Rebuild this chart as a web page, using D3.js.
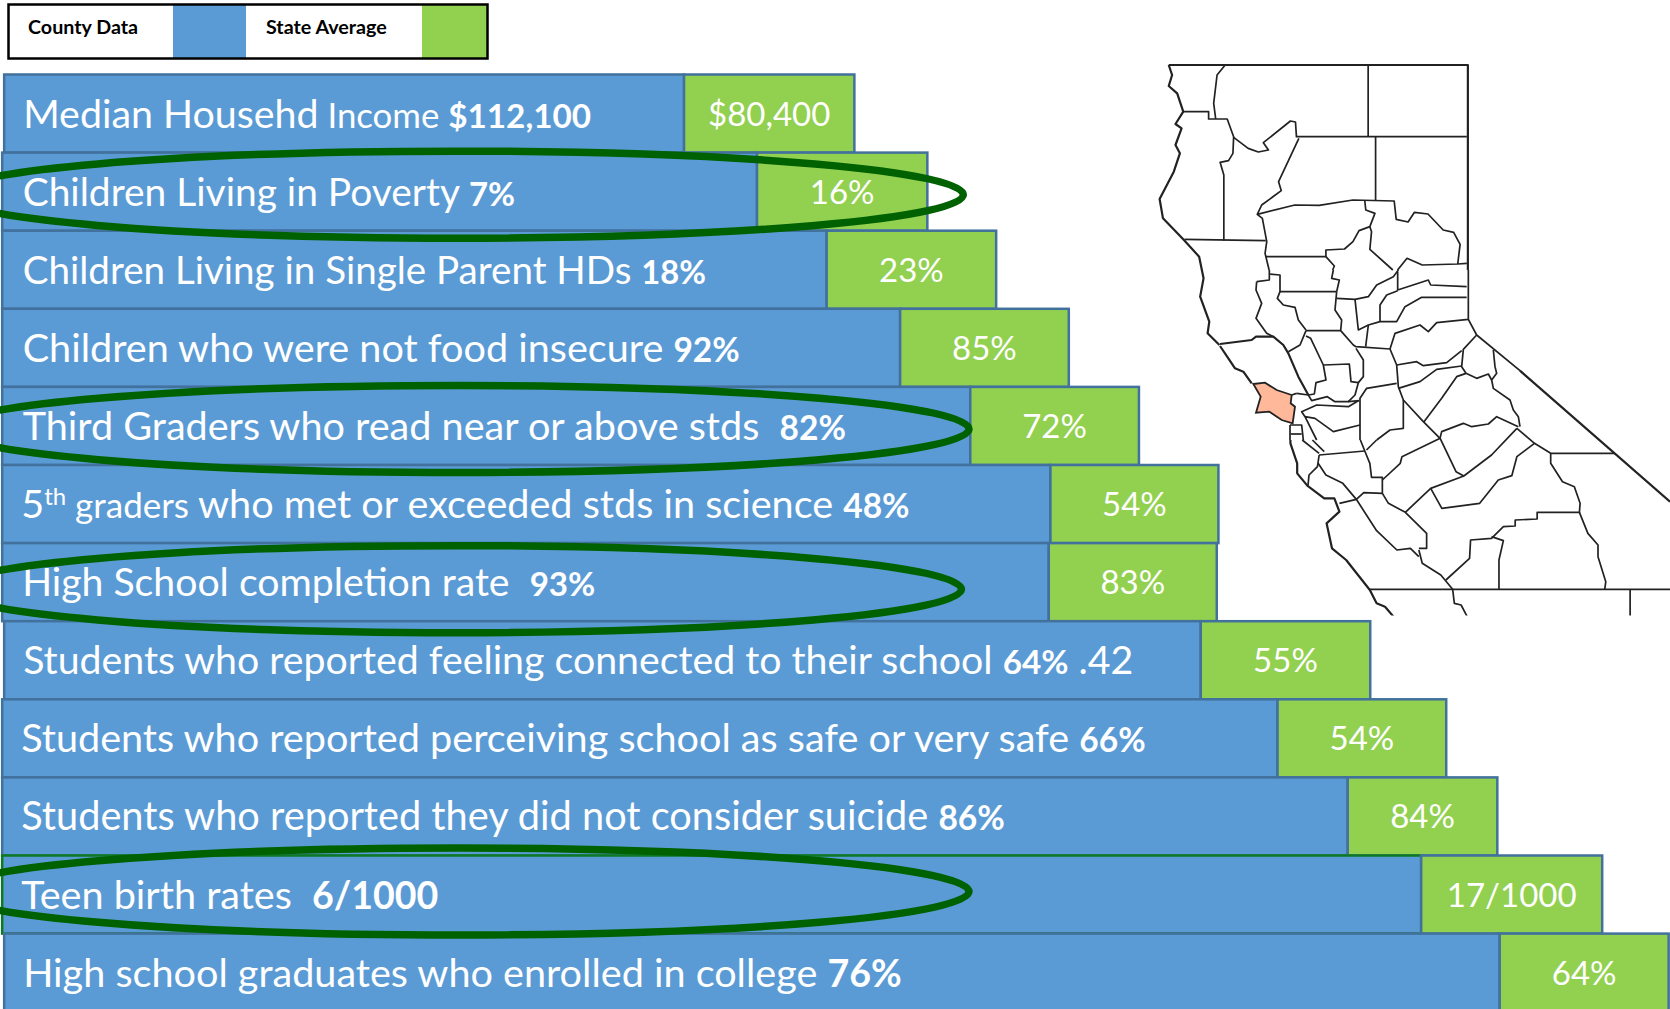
<!DOCTYPE html>
<html>
<head>
<meta charset="utf-8">
<style>
  html, body { margin: 0; padding: 0; background: #fff; }
  svg { display: block; }
  text { font-family: Lato, "Open Sans", sans-serif; white-space: pre; }
</style>
<script src="https://cdn.jsdelivr.net/npm/d3@7"></script>
</head>
<body>
<svg id="chart" width="1670" height="1009"></svg>
<script>
// rows: r regular, s small, b bold, B big bold, u superscript
var rowLabels = [
  [["Median Househd", "r"], [" Income ", "s"], ["$112,100", "b"]],
  [["Children Living in Poverty ", "r"], ["7%", "b"]],
  [["Children Living in Single Parent HDs ", "r"], ["18%", "b"]],
  [["Children who were not food insecure ", "r"], ["92%", "b"]],
  [["Third Graders who read near or above stds  ", "r"], ["82%", "b"]],
  [["5", "r"], ["th", "u"], [" graders ", "s"], ["who met or exceeded stds in science ", "r"], ["48%", "b"]],
  [["High School completion rate  ", "r"], ["93%", "b"]],
  [["Students who reported feeling connected to their school ", "r"], ["64%", "b"], [" .42", "r"]],
  [["Students who reported perceiving school as safe or very safe ", "r"], ["66%", "b"]],
  [["Students who reported they did not consider suicide ", "r"], ["86%", "b"]],
  [["Teen birth rates  ", "r"], ["6/1000", "B"]],
  [["High school graduates who enrolled in college ", "r"], ["76%", "B"]]
];
var stateLabels = ["$80,400", "16%", "23%", "85%", "72%", "54%", "83%", "55%", "54%", "84%", "17/1000", "64%"];

// bar lengths, as a share of the page width
var rowStart = [0.25, 0.13, 0.13, 0.13, 0.13, 0.13, 0.13, 0.25, 0.13, 0.13, 0.13, 0.25];
var countyEnd = [40.96, 45.33, 49.5, 53.9, 58.1, 62.9, 62.8, 71.9, 76.5, 80.7, 85.1, 89.8];
var stateLen = [10.2, 10.2, 10.15, 10.1, 10.1, 10.06, 10.06, 10.15, 10.1, 8.96, 10.84, 10.12];

// the source text boxes were not all set the same
var labelScale = [0.994, 0.983, 0.974, 1, 1, 1, 0.99, 0.992, 1, 1.003, 1, 1];
var labelNudge = [0, 1.5, 1.5, 1.5, 1.5, 0, 1, 0, 0, 0, 0, 0];

// circled rows, how far each ring sits off its row centre, and its half width
var ringRows = [1, 4, 6, 10];
var ringShift = [3, 3, 7, -3];
var ringRx = [507, 510, 506, 510];

var legendItems = ["County Data", "State Average"];

var mapNorth = [
  [[85,45],[970,45],[970,660]],
  [[85,45],[95,75],[85,108],[110,130],[128,185],[105,222],[123,235],[105,285],[118,310],[100,365],[58,447],[68,505],[130,570],[175,620],[188,685],[178,740],[205,815],[200,850],[235,885]],
  [[252,45],[228,75],[218,160],[224,207]],
  [[128,185],[203,185],[203,207],[258,207],[277,260],[275,310],[262,332],[237,337],[248,375],[248,572]],
  [[277,262],[320,295],[350,306],[380,300],[365,278],[445,213],[460,216],[463,262]],
  [[463,260],[967,260]],
  [[675,45],[675,258]],
  [[697,260],[697,452]],
  [[470,265],[410,395],[418,422],[360,465],[347,493],[458,465],[530,466],[630,450],[752,453],[758,508],[793,516],[812,487],[852,492],[897,540],[928,547],[947,583],[940,642]],
  [[132,568],[372,572]],
  [[347,493],[362,505],[375,575],[370,610],[382,660]],
  [[372,620],[550,620]],
  [[665,453],[668,480],[695,490],[680,530],[648,542],[630,575],[605,597],[550,600],[550,620],[575,648],[570,660]],
  [[680,530],[685,545],[680,598],[748,660]],
  [[762,660],[790,625],[835,645],[940,642],[967,640]]
];
var mapCentre = [
  [[0,228],[25,265],[45,295],[70,305],[95,340]],
  [[0,222],[95,210],[108,200],[160,200],[190,225],[205,250],[235,320],[265,375]],
  [[110,35],[108,60],[125,100],[108,145],[140,190],[160,200]],
  [[110,35],[148,30],[148,0]],
  [[148,12],[180,15],[180,65],[350,65]],
  [[350,65],[358,30],[335,25],[340,0]],
  [[180,65],[172,85],[190,105],[225,112],[235,150],[258,180]],
  [[258,182],[362,182]],
  [[350,65],[345,120],[365,150],[362,182],[400,225],[408,230],[510,237],[530,285],[535,350],[550,390],[610,455],[660,505]],
  [[258,182],[240,225],[205,245]],
  [[258,198],[272,205],[310,285],[318,330],[288,338],[283,372],[265,375]],
  [[310,285],[388,282],[393,335],[415,338],[405,375],[385,395],[345,395],[322,380],[275,392],[265,375]],
  [[415,338],[430,320],[430,270],[408,235]],
  [[510,237],[525,190],[600,165],[625,185],[650,158],[745,148],[745,0]],
  [[745,148],[770,195],[900,302]],
  [[770,195],[730,238],[725,290],[738,310],[770,325],[805,312],[815,330]],
  [[530,285],[590,275],[610,287],[680,278],[725,242]],
  [[725,288],[650,298],[600,335],[535,355]],
  [[738,310],[710,320],[665,385],[612,455]],
  [[820,240],[825,290],[830,310],[815,330],[820,355],[870,390],[880,420],[895,440],[900,470]],
  [[530,340],[440,355],[420,385],[420,510]],
  [[385,395],[418,392]],
  [[550,390],[550,475],[510,480],[470,510]],
  [[420,465],[340,485],[285,445],[255,440],[290,510]],
  [[255,440],[245,425],[290,405],[385,410],[415,392]],
  [[210,465],[245,465],[250,510]],
  [[210,465],[210,510]],
  [[212,492],[245,492]],
  [[230,370],[265,375]],
  [[230,370],[215,375]],
  [[405,88],[350,85]],
  [[405,88],[415,180],[445,165],[480,155],[530,155],[555,110],[605,82],[740,82]],
  [[405,88],[445,80],[470,45],[520,20],[535,0]],
  [[533,5],[533,60],[625,30],[632,45],[740,50]],
  [[480,155],[480,105],[500,75],[533,62]],
  [[445,165],[437,230]],
  [[660,505],[665,485],[730,460],[755,470],[805,462],[830,440],[895,470]]
];
var mapSouth = [
  [[1124,92],[1568,485]],
  [[445,300],[445,310],[465,370],[465,400],[495,437],[545,475],[575,475],[590,515],[552,550],[568,625],[610,660],[680,750],[700,790],[725,800],[750,830]],
  [[480,300],[530,340]],
  [[510,300],[545,335]],
  [[530,345],[525,380],[500,405],[497,437]],
  [[530,345],[665,333]],
  [[652,300],[665,333],[680,370],[685,412],[717,412],[717,460],[662,458],[640,478],[590,490]],
  [[527,370],[550,405],[600,430],[640,478],[700,572],[760,630],[800,625],[825,650]],
  [[825,625],[848,625],[848,580],[785,517],[735,490],[717,460]],
  [[717,420],[770,370],[775,350],[888,295],[935,395],[958,408],[1040,345],[1115,265]],
  [[700,300],[670,330]],
  [[958,408],[860,445],[785,517]],
  [[860,445],[893,505],[1005,490],[1060,420],[1100,407],[1115,350],[1167,310],[1115,265]],
  [[1167,310],[1215,340],[1405,340]],
  [[1215,340],[1215,370],[1250,425],[1285,440],[1302,490],[1300,517],[1175,517],[1175,537],[1110,540],[1110,558],[1075,560],[1040,595],[978,600],[975,655],[905,720]],
  [[1300,517],[1325,580],[1355,615],[1355,650],[1378,725],[1375,748]],
  [[1040,590],[1075,602],[1062,660],[1062,748]],
  [[680,748],[1568,748]],
  [[825,630],[835,670],[890,705],[925,748],[930,790],[950,795],[968,830]],
  [[1450,748],[1450,830]]
];
var mapHome = [[100,342],[135,338],[170,360],[215,375],[212,400],[225,410],[218,460],[185,450],[148,425],[108,428],[122,380]];

var svg = d3.select("#chart");

var x = d3.scaleLinear().domain([0, 100]).range([0, 1670]);
var y = d3.scaleBand().domain(d3.range(rowLabels.length)).range([74.5, 1011.7]);

var rows = rowLabels.map(function (d, i) {
  return { i: i, parts: d, start: rowStart[i], county: countyEnd[i], len: stateLen[i], state: stateLabels[i] };
});

// map first, the bars sit on top of it
var mapLayer = svg.append("g").attr("clip-path", "url(#mapClip)");
svg.append("clipPath").attr("id", "mapClip").append("rect")
  .attr("x", 1140).attr("y", 60).attr("width", 530).attr("height", 555.6);

function drawLines(lines, sx, sy, width) {
  var line = d3.line().x(function (d) { return sx(d[0]); }).y(function (d) { return sy(d[1]); });
  mapLayer.selectAll(null)
    .data(lines)
    .enter().append("path")
    .attr("d", line)
    .attr("fill", "none")
    .attr("stroke", "#222")
    .attr("stroke-width", function (d, i) { return i < 2 ? width + 0.5 : width; })
    .attr("stroke-linejoin", "round");
}

var northX = d3.scaleLinear().domain([0, 1568]).range([1140, 1670]);
var northY = d3.scaleLinear().domain([0, 900]).range([50, 350]);
var centreX = d3.scaleLinear().domain([0, 900]).range([1220, 1520]);
var centreY = d3.scaleLinear().domain([0, 510]).range([270, 440]);
var southY = d3.scaleLinear().domain([0, 870]).range([340, 630]);

mapLayer.append("path")
  .attr("d", d3.line().x(function (d) { return centreX(d[0]); }).y(function (d) { return centreY(d[1]); }).curve(d3.curveLinearClosed)(mapHome))
  .attr("fill", "#ffb899")
  .attr("stroke", "#222")
  .attr("stroke-width", 1.8);
drawLines(mapNorth, northX, northY, 1.7);
drawLines(mapCentre, centreX, centreY, 1.7);
drawLines(mapSouth, northX, southY, 1.7);

// bars
var rowGs = svg.selectAll(".row")
  .data(rows)
  .enter().append("g")
  .attr("class", "row");

rowGs.append("rect")
  .attr("x", function (d) { return x(d.start); })
  .attr("y", function (d) { return y(d.i); })
  .attr("width", function (d) { return x(d.county) - x(d.start); })
  .attr("height", y.bandwidth())
  .attr("fill", "#5b9bd5")
  .attr("stroke", function (d) { return d.i === 10 ? "#0b7a23" : "#41719c"; })
  .attr("stroke-width", 2.5);

rowGs.append("rect")
  .attr("x", function (d) { return x(d.county); })
  .attr("y", function (d) { return y(d.i); })
  .attr("width", function (d) { return x(d.len); })
  .attr("height", y.bandwidth())
  .attr("fill", "#92d050")
  .attr("stroke", "#41719c")
  .attr("stroke-width", 2.5);

var sizes = { r: 39.6, s: 35, b: 33.5, B: 37.5, u: 24 };

var labels = rowGs.append("text")
  .attr("x", function (d) { return x(d.start) + 19 + labelNudge[d.i]; })
  .attr("y", function (d) { return y(d.i) + y.bandwidth() / 2 + 14; })
  .attr("fill", "#fff");

labels.each(function (d) {
  var sel = d3.select(this);
  d.parts.forEach(function (p, k) {
    var prev = k > 0 ? d.parts[k - 1][1] : null;
    sel.append("tspan")
      .attr("font-size", sizes[p[1]] * labelScale[d.i])
      .attr("font-weight", p[1] === "b" || p[1] === "B" ? 700 : 400)
      .attr("dy", p[1] === "u" ? -13 : (prev === "u" ? 13 : 0))
      .text(p[0]);
  });
});

rowGs.append("text")
  .attr("x", function (d) { return x(d.county) + x(d.len) / 2; })
  .attr("y", function (d) { return y(d.i) + y.bandwidth() / 2 + 12; })
  .attr("text-anchor", "middle")
  .attr("font-size", 33)
  .attr("fill", "#fff")
  .text(function (d) { return d.state; });

// rings around the rows that were called out
svg.selectAll(".ring")
  .data(ringRows)
  .enter().append("ellipse")
  .attr("class", "ring")
  .attr("cx", function (d, i) { return ringRx[i] * 0.9; })
  .attr("cy", function (d, i) { return y(d) + y.bandwidth() / 2 + ringShift[i]; })
  .attr("rx", function (d, i) { return ringRx[i]; })
  .attr("ry", 43.5)
  .attr("fill", "none")
  .attr("stroke", "#006100")
  .attr("stroke-width", 7.5);

// legend
var legend = svg.append("g");
legend.append("rect")
  .attr("x", 8.5).attr("y", 4.5).attr("width", 479).attr("height", 54)
  .attr("fill", "#fff");
legend.append("rect")
  .attr("x", 173).attr("y", 4.5).attr("width", 73).attr("height", 54)
  .attr("fill", "#5b9bd5");
legend.append("rect")
  .attr("x", 422).attr("y", 4.5).attr("width", 65).attr("height", 54)
  .attr("fill", "#92d050");
legend.append("rect")
  .attr("x", 8.5).attr("y", 4.5).attr("width", 479).attr("height", 54)
  .attr("fill", "none")
  .attr("stroke", "#000")
  .attr("stroke-width", 2.5);
legend.selectAll("text")
  .data(legendItems)
  .enter().append("text")
  .attr("x", function (d, i) { return i === 0 ? 28 : 266; })
  .attr("y", 34)
  .attr("font-size", 19.7)
  .attr("font-weight", 700)
  .attr("fill", "#000")
  .text(function (d) { return d; });
</script>
</body>
</html>
